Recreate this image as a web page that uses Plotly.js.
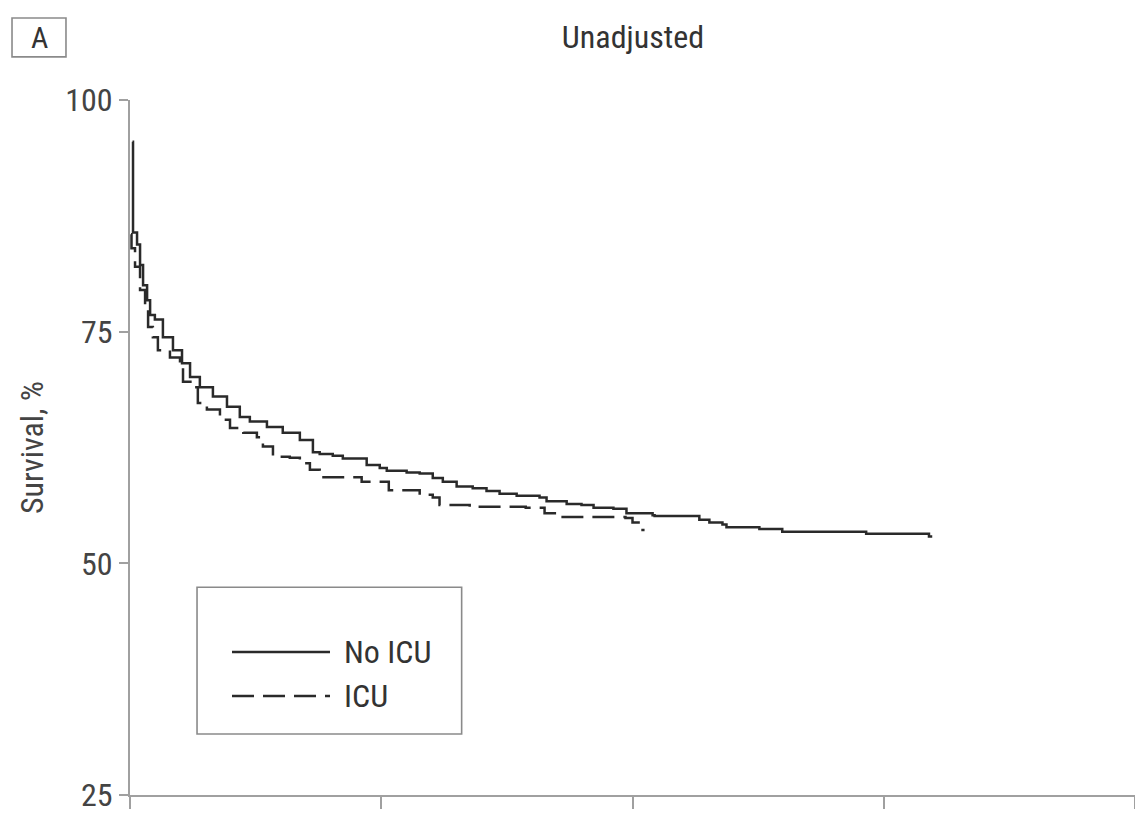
<!DOCTYPE html>
<html>
<head>
<meta charset="utf-8">
<script src="https://cdn.plot.ly/plotly-3.0.1.min.js"></script>
<style>html,body{margin:0;padding:0;background:#fff}#chart{width:1135px;height:813px}</style>
</head>
<body>
<div id="chart"></div>
<script>
// Time (axis units, unlabeled) and survival (%) for each group
var noIcuTime = [0.010,0.012,0.028,0.040,0.052,0.068,0.080,0.099,0.131,0.171,0.207,0.239,0.278,0.330,0.386,0.437,0.477,0.545,0.608,0.676,0.728,0.755,0.807,0.847,0.942,0.994,1.022,1.101,1.153,1.205,1.245,1.300,1.364,1.419,1.471,1.539,1.630,1.658,1.738,1.797,1.845,1.924,1.976,2.080,2.088,2.266,2.306,2.358,2.374,2.505,2.596,2.930,3.180,3.193];
var noIcuSurv = [95.5,85.7,84.4,82.2,80.0,78.4,76.8,76.3,74.4,73.0,71.6,70.1,69.0,68.0,66.9,65.8,65.3,64.7,64.1,63.3,62.0,61.8,61.6,61.3,60.6,60.3,60.0,59.8,59.7,59.2,58.8,58.3,58.1,57.8,57.5,57.3,57.1,56.7,56.4,56.3,56.0,55.9,55.4,55.2,55.1,54.7,54.4,54.2,53.9,53.7,53.4,53.2,52.9,52.9];
var icuTime = [0.004,0.006,0.020,0.040,0.060,0.072,0.091,0.111,0.159,0.199,0.211,0.251,0.270,0.306,0.358,0.398,0.451,0.505,0.529,0.569,0.636,0.676,0.716,0.755,0.922,1.030,1.153,1.205,1.232,1.352,1.575,1.650,1.710,1.972,2.000,2.040,2.048];
var icuSurv = [85.5,84.0,82.0,79.5,77.6,75.5,74.4,73.0,72.2,71.2,69.6,69.0,67.3,66.6,65.5,64.6,64.1,63.6,62.6,61.5,61.4,60.8,60.1,59.3,58.8,57.9,57.4,57.1,56.3,56.1,56.0,55.4,55.0,54.9,54.4,53.6,53.6];
var seriesNames = ["No ICU", "ICU"];
var yTicks = [25, 50, 75, 100];
var xTicks = [0, 1, 2, 3, 4];
var panelLabel = "A";
var chartTitle = "Unadjusted";
var yTitle = "Survival, %";

var FONT = "'Liberation Sans Narrow', 'Roboto Condensed', Roboto, sans-serif";
var LINE = "#2a2a2a";
var TEXT = "#333333";

var traces = [
  {x: noIcuTime, y: noIcuSurv, name: seriesNames[0], mode: "lines",
   line: {shape: "hv", color: LINE, width: 2.5}},
  {x: icuTime, y: icuSurv, name: seriesNames[1], mode: "lines",
   line: {shape: "hv", color: LINE, width: 2.5, dash: "22px,9px"}}
];

// custom legend geometry (paper coords)
var lgX0 = 0.0667, lgX1 = 0.330, lgY0 = 0.0878, lgY1 = 0.299;
var rowY = [0.2058, 0.1424];
var shapes = [
  {type: "rect", xref: "paper", yref: "paper", x0: lgX0, x1: lgX1, y0: lgY0, y1: lgY1,
   line: {color: "#8a8a8a", width: 1.6}, fillcolor: "rgba(0,0,0,0)"},
  {type: "rect", xref: "paper", yref: "paper", x0: -0.1174, x1: -0.0637, y0: 1.062, y1: 1.118,
   line: {color: "#8a8a8a", width: 1.6}, fillcolor: "rgba(0,0,0,0)"}
];
var annotations = [
  {xref: "paper", yref: "paper", x: -0.0905, y: 1.090, text: panelLabel, showarrow: false,
   xanchor: "center", yanchor: "middle", font: {family: FONT, size: 30, color: TEXT}}
];
seriesNames.forEach(function (nm, i) {
  shapes.push({type: "line", xref: "paper", yref: "paper", x0: 0.1015, x1: 0.199, y0: rowY[i], y1: rowY[i],
    line: {color: LINE, width: 2.5, dash: traces[i].line.dash || "solid"}});
  annotations.push({xref: "paper", yref: "paper", x: 0.211, y: rowY[i], text: nm, showarrow: false,
    xanchor: "left", yanchor: "middle", font: {family: FONT, size: 32, color: TEXT}});
});

var layout = {
  width: 1135, height: 813,
  margin: {l: 130, r: 0, t: 100, b: 18},
  paper_bgcolor: "#fff", plot_bgcolor: "#fff",
  showlegend: false,
  font: {family: FONT, color: TEXT},
  title: {text: chartTitle, x: 0.5577, xanchor: "center", y: 0.955, yanchor: "middle",
          font: {family: FONT, size: 32, color: TEXT}},
  xaxis: {range: [0, 4], tickvals: xTicks, showticklabels: false, ticks: "outside",
          ticklen: 12, tickwidth: 2, tickcolor: "#a0a0a0", showline: true, linecolor: "#a0a0a0",
          linewidth: 2, showgrid: false, zeroline: false, fixedrange: true},
  yaxis: {range: [25, 100], tickvals: yTicks, ticks: "outside", ticklen: 9, tickwidth: 2,
          tickcolor: "#a0a0a0", showline: true, linecolor: "#a0a0a0", linewidth: 2, showgrid: false,
          zeroline: false, ticklabeloverflow: "allow",
          tickfont: {family: FONT, size: 32, color: "#444"},
          title: {text: yTitle, font: {family: FONT, size: 32, color: "#444"}, standoff: 12}},
  shapes: shapes,
  annotations: annotations
};

Plotly.newPlot("chart", traces, layout, {displayModeBar: false, staticPlot: true});
</script>
</body>
</html>
